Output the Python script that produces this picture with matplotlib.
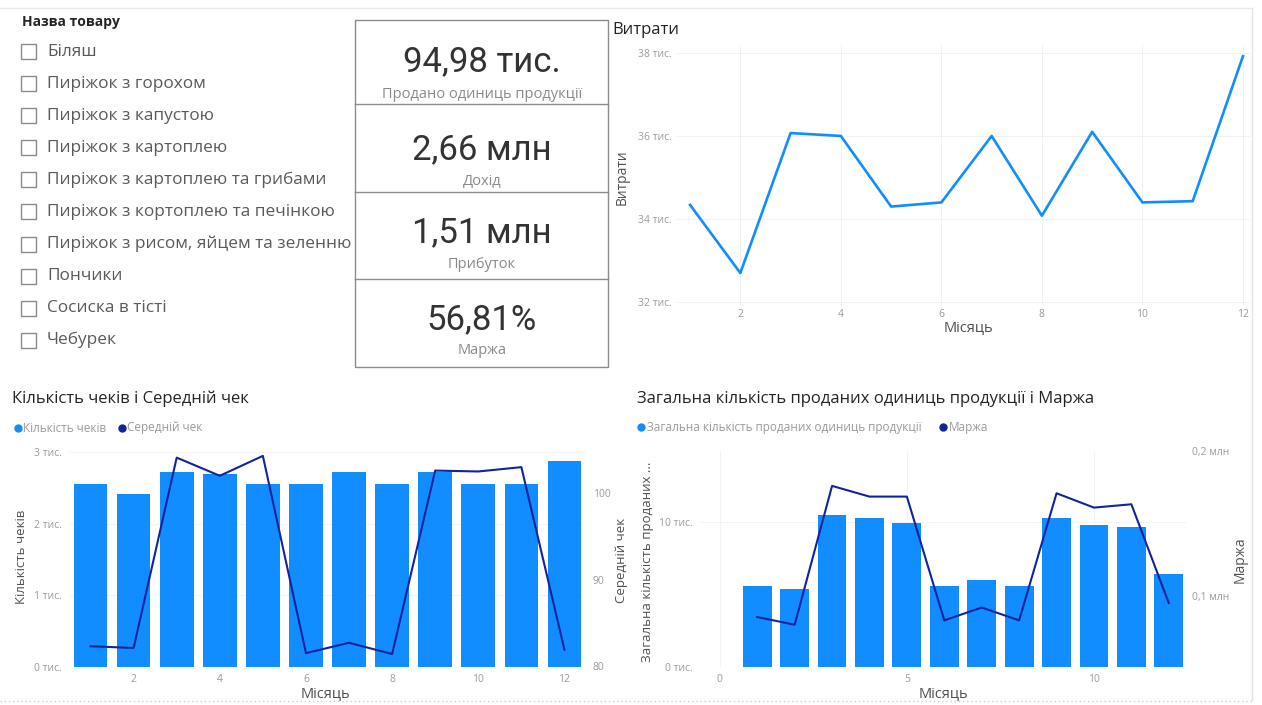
import matplotlib
matplotlib.use("Agg")
import matplotlib.pyplot as plt
from matplotlib.patches import Rectangle

plt.rcParams["font.family"] = ["Open Sans", "DejaVu Sans"]

# ---- data ----
months = [1, 2, 3, 4, 5, 6, 7, 8, 9, 10, 11, 12]
expenses_k = [34.34, 32.70, 36.07, 36.00, 34.30, 34.40, 36.00, 34.08, 36.10, 34.40, 34.43, 37.92]
checks_k = [2.56, 2.41, 2.72, 2.70, 2.56, 2.56, 2.72, 2.56, 2.72, 2.56, 2.56, 2.87]
avg_check = [82.3, 82.1, 104.1, 102.0, 104.3, 81.5, 82.7, 81.4, 102.6, 102.5, 103.0, 81.9]
units_k = [5.60, 5.38, 10.45, 10.26, 9.88, 5.56, 5.97, 5.56, 10.26, 9.77, 9.62, 6.43]
margin_m = [0.0853, 0.0800, 0.1759, 0.1685, 0.1685, 0.0830, 0.0919, 0.0830, 0.1708, 0.1609, 0.1632, 0.0950]

products = ["Біляш", "Пиріжок з горохом", "Пиріжок з капустою", "Пиріжок з картоплею",
            "Пиріжок з картоплею та грибами", "Пиріжок з кортоплею та печінкою",
            "Пиріжок з рисом, яйцем та зеленню", "Пончики", "Сосиска в тісті", "Чебурек"]
kpi_values = ["94,98 тис.", "2,66 млн", "1,51 млн", "56,81%"]
kpi_labels = ["Продано одиниць продукції", "Дохід", "Прибуток", "Маржа"]

exp_ticks = [32, 34, 36, 38]
exp_tick_labels = ["32 тис.", "34 тис.", "36 тис.", "38 тис."]
chk_ticks = [0, 1, 2, 3]
chk_tick_labels = ["0 тис.", "1 тис.", "2 тис.", "3 тис."]
avg_ticks = [80, 90, 100]
unit_ticks = [0, 10]
unit_tick_labels = ["0 тис.", "10 тис."]
marg_ticks = [0.1, 0.2]
marg_tick_labels = ["0,1 млн", "0,2 млн"]

BLUE = "#118DFF"
NAVY = "#12239E"
TICK = "#9a9a9a"
LABEL = "#505050"
TITLE = "#252423"

W, H = 1262, 705
fig = plt.figure(figsize=(W / 100, H / 100), dpi=100)
fig.patch.set_facecolor("white")


def px_axes(x0, y0, x1, y1):
    return fig.add_axes([x0 / W, 1 - y1 / H, (x1 - x0) / W, (y1 - y0) / H])


def ftext(x, y, s, **kw):
    fig.text(x / W, 1 - y / H, s, **kw)


def style(ax):
    for sp in ax.spines.values():
        sp.set_visible(False)
    ax.tick_params(length=0, labelsize=7.5, labelcolor=TICK)


# background / overlay for slicer, cards and frame
bg = fig.add_axes([0, 0, 1, 1])
bg.set_xlim(0, W)
bg.set_ylim(H, 0)
bg.axis("off")
bg.plot([0, 1252], [8, 8], color="#e8e8e8", lw=1)
bg.plot([1252, 1252], [8, 700], color="#e3e3e3", lw=1)
bg.plot([0, 1252], [701, 701], color="#cfcfcf", lw=1, ls=(0, (1, 2)))

# slicer
ftext(22, 22, "Назва товару", fontsize=10, fontweight="bold", color=TITLE, va="center")
for i, name in enumerate(products):
    yc = 51.7 + i * 32.05
    bg.add_patch(Rectangle((21, yc - 7.5), 15, 15, fill=False, ec="#8a8a8a", lw=1))
    ftext(47, yc, name, fontsize=12.4, color="#5a5a5a", va="center")

# KPI cards
bg.add_patch(Rectangle((355, 20), 253, 347, fill=False, ec="#8c8c8c", lw=1))
for yd in [104, 192, 279]:
    bg.plot([355, 608], [yd, yd], color="#8c8c8c", lw=1)
val_y = [62, 150, 233, 320]
lab_y = [95, 182, 265, 350]
for v, l, vy, ly in zip(kpi_values, kpi_labels, val_y, lab_y):
    ftext(482, vy, v, fontsize=25, color="#333333", ha="center", va="center",
          family=["Roboto", "DejaVu Sans"])
    ftext(482, ly, l, fontsize=10.5, color="#8a8a8a", ha="center", va="center")

# ---- Витрати ----
ax = px_axes(677, 45, 1250, 305)
style(ax)
ax.plot(months, expenses_k, color=BLUE, lw=1.9)
ax.set_xlim(0.74, 12.14)
ax.set_ylim(31.93, 38.19)
ax.set_xticks([2, 4, 6, 8, 10, 12])
ax.set_yticks(exp_ticks)
ax.set_yticklabels(exp_tick_labels)
ax.tick_params(axis="y", pad=4)
ax.tick_params(axis="x", pad=3)
ax.grid(True, color="#f1f1f1", lw=0.7)
ax.set_axisbelow(True)
ftext(612, 30, "Витрати", fontsize=12, color=TITLE, va="center")
ftext(622, 177, "Витрати", fontsize=10, color=LABEL, va="center", ha="center", rotation=90)
ftext(968, 328, "Місяць", fontsize=10.5, color=LABEL, va="center", ha="center")

# ---- Кількість чеків і Середній чек ----
ax = px_axes(69, 452, 586, 667)
style(ax)
ax.bar(months, checks_k, width=0.78, color=BLUE, zorder=2)
ax.set_xlim(0.5, 12.5)
ax.set_ylim(0, 3)
ax.set_xticks([2, 4, 6, 8, 10, 12])
ax.set_yticks(chk_ticks)
ax.set_yticklabels(chk_tick_labels)
ax.tick_params(axis="y", pad=5)
ax.tick_params(axis="x", pad=5)
ax.grid(True, axis="y", color="#f3f3f3", lw=0.7)
ax.set_axisbelow(True)
ax2 = ax.twinx()
style(ax2)
ax2.plot(months, avg_check, color=NAVY, lw=1.5)
ax2.set_ylim(79.9, 104.75)
ax2.set_yticks(avg_ticks)
ax2.tick_params(axis="y", pad=5)
ftext(12, 399, "Кількість чеків і Середній чек", fontsize=12, color=TITLE, va="center")
bg.plot(18, 428, "o", ms=5, color=BLUE)
ftext(23, 428, "Кількість чеків", fontsize=8.5, color=TICK, va="center")
bg.plot(122, 428, "o", ms=5, color=NAVY)
ftext(127, 428, "Середній чек", fontsize=8.5, color=TICK, va="center")
ftext(22, 557, "Кількість чеків", fontsize=9.5, color=LABEL, va="center", ha="center", rotation=90)
ftext(621, 560, "Середній чек", fontsize=9.5, color=LABEL, va="center", ha="center", rotation=90)
ftext(325, 694, "Місяць", fontsize=10.5, color=LABEL, va="center", ha="center")

# ---- Загальна кількість проданих одиниць продукції і Маржа ----
ax = px_axes(700, 451, 1186, 667)
style(ax)
ax.bar(months, units_k, width=0.77, color=BLUE, zorder=2)
ax.set_xlim(-0.53, 12.46)
ax.set_ylim(0, 14.86)
ax.set_xticks([0, 5, 10])
ax.set_yticks(unit_ticks)
ax.set_yticklabels(unit_tick_labels)
ax.tick_params(axis="y", pad=5)
ax.tick_params(axis="x", pad=5)
ax.grid(True, color="#f3f3f3", lw=0.7)
ax.set_axisbelow(True)
ax2 = ax.twinx()
style(ax2)
ax2.plot(months, margin_m, color=NAVY, lw=1.5)
ax2.set_ylim(0.0508, 0.2)
ax2.set_yticks(marg_ticks)
ax2.set_yticklabels(marg_tick_labels)
ax2.tick_params(axis="y", pad=4)
ftext(637, 399, "Загальна кількість проданих одиниць продукції і Маржа", fontsize=12,
      color=TITLE, va="center")
bg.plot(641, 427, "o", ms=5, color=BLUE)
ftext(647, 427, "Загальна кількість проданих одиниць продукції", fontsize=8.5, color=TICK, va="center")
bg.plot(943, 427, "o", ms=5, color=NAVY)
ftext(949, 427, "Маржа", fontsize=8.5, color=TICK, va="center")
ftext(647, 562, "Загальна кількість проданих ...", fontsize=9.5, color=LABEL,
      va="center", ha="center", rotation=90)
ftext(1240, 560, "Маржа", fontsize=10, color=LABEL, va="center", ha="center", rotation=90)
ftext(943, 694, "Місяць", fontsize=10.5, color=LABEL, va="center", ha="center")

fig.savefig("out.png", dpi=100, facecolor="white")
